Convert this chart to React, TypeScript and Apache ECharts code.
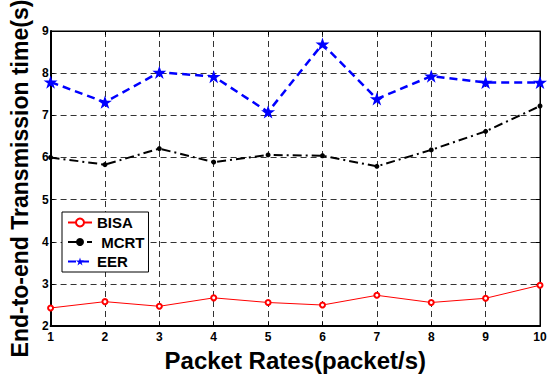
import React, { useEffect, useRef } from "react";
import * as echarts from "echarts";

const packetRates = [1, 2, 3, 4, 5, 6, 7, 8, 9, 10];
const bisa = [2.43, 2.58, 2.47, 2.67, 2.56, 2.5, 2.73, 2.56, 2.66, 2.97];
const mcrt = [6.0, 5.83, 6.21, 5.89, 6.06, 6.04, 5.79, 6.18, 6.62, 7.22];
const eer = [7.79, 7.31, 8.02, 7.92, 7.08, 8.69, 7.39, 7.93, 7.78, 7.78];
const seriesNames = ["BISA", " MCRT", "EER"];
const xTitle = "Packet Rates(packet/s)";
const yTitle = "End-to-end Transmission time(s)";

const FONT = "'Liberation Sans', Arial, sans-serif";
const STAR =
  "path://M50,0 L61.8,35.3 L99,35.3 L69,57.3 L80.4,92.7 L50,70.8 L19.6,92.7 L31,57.3 L1,35.3 L38.2,35.3 Z";

export default function App() {
  const ref = useRef<HTMLDivElement>(null);
  useEffect(() => {
    if (!ref.current) return;
    const chart = echarts.init(ref.current, null, { renderer: "svg" });
    const pts = (vals: number[]) => packetRates.map((x, i) => [x, vals[i]]);
    const gridLine = { show: true, lineStyle: { color: "#333", width: 1, type: [6, 4] } };
    const tickLabel = { color: "#000", fontFamily: FONT, fontWeight: "bold", fontSize: 12 };
    chart.setOption({
      animation: false,
      backgroundColor: "#fff",
      grid: {
        left: 50,
        top: 31,
        right: 13,
        bottom: 43,
        show: true,
        borderColor: "#000",
        borderWidth: 1,
        containLabel: false,
      },
      legend: {
        orient: "vertical",
        left: 62,
        top: 212,
        data: seriesNames,
        backgroundColor: "#fff",
        borderColor: "#000",
        borderWidth: 1,
        borderRadius: 0,
        padding: [3, 4, 3, 5],
        itemWidth: 24,
        itemHeight: 10,
        itemGap: 4.5,
        textStyle: { color: "#000", fontFamily: FONT, fontWeight: "bold", fontSize: 15, lineHeight: 15 },
      },
      xAxis: [
        {
          type: "value",
          min: 1,
          max: 10,
          interval: 1,
          name: xTitle,
          nameLocation: "middle",
          nameGap: 19,
          nameTextStyle: { color: "#000", fontFamily: FONT, fontWeight: "bold", fontSize: 24 },
          axisLine: { show: true, lineStyle: { color: "#000", width: 2 } },
          axisTick: { show: true, inside: true, length: 4, lineStyle: { color: "#000" } },
          axisLabel: { ...tickLabel, margin: 5 },
          splitLine: gridLine,
        },
        {
          type: "value",
          position: "top",
          min: 1,
          max: 10,
          interval: 1,
          axisLine: { show: true, lineStyle: { color: "#000", width: 1 } },
          axisTick: { show: true, inside: true, length: 4, lineStyle: { color: "#000" } },
          axisLabel: { show: false },
          splitLine: { show: false },
        },
      ],
      yAxis: [
        {
          type: "value",
          min: 2,
          max: 9,
          interval: 1,
          name: yTitle,
          nameLocation: "middle",
          nameGap: 16,
          nameTextStyle: { color: "#000", fontFamily: FONT, fontWeight: "bold", fontSize: 23 },
          axisLine: { show: true, lineStyle: { color: "#000", width: 2 } },
          axisTick: { show: true, inside: true, length: 4, lineStyle: { color: "#000" } },
          axisLabel: { ...tickLabel, margin: 2 },
          splitLine: gridLine,
        },
        {
          type: "value",
          position: "right",
          min: 2,
          max: 9,
          interval: 1,
          axisLine: { show: true, lineStyle: { color: "#000", width: 1 } },
          axisTick: { show: true, inside: true, length: 4, lineStyle: { color: "#000" } },
          axisLabel: { show: false },
          splitLine: { show: false },
        },
      ],
      series: [
        {
          name: seriesNames[0],
          type: "line",
          data: pts(bisa),
          symbol: "emptyCircle",
          symbolSize: 5,
          color: "#ff0000",
          lineStyle: { color: "#ff0000", width: 1 },
          itemStyle: { color: "#ff0000", borderWidth: 1.3 },
          z: 3,
        },
        {
          name: seriesNames[1],
          type: "line",
          data: pts(mcrt),
          symbol: "circle",
          symbolSize: 5,
          color: "#000",
          lineStyle: { color: "#000", width: 2, type: [9, 4, 2, 4] },
          itemStyle: { color: "#000" },
          z: 3,
        },
        {
          name: seriesNames[2],
          type: "line",
          data: pts(eer),
          symbol: STAR,
          symbolSize: 14,
          symbolKeepAspect: true,
          color: "#0000ff",
          lineStyle: { color: "#0000ff", width: 2.5, type: [8, 5] },
          itemStyle: { color: "#0000ff" },
          z: 3,
        },
      ],
    });
    return () => chart.dispose();
  }, []);
  return <div ref={ref} style={{ position: "fixed", left: 0, top: 0, width: 553, height: 377 }} />;
}
